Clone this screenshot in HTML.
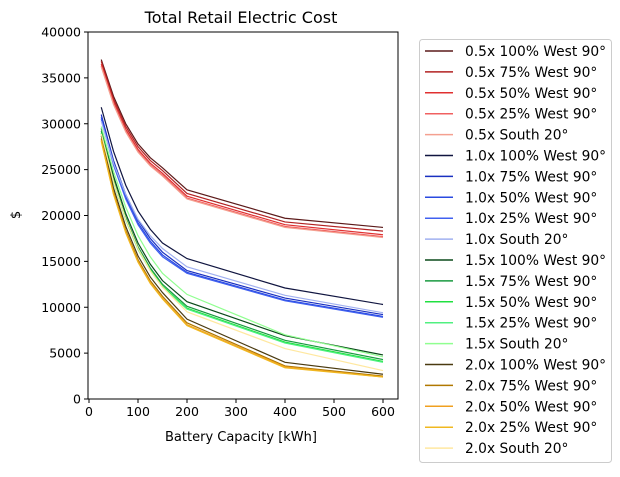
<!DOCTYPE html>
<html><head><meta charset="utf-8"><style>body{margin:0;background:#fff}svg{font-family:"DejaVu Sans","Liberation Sans",sans-serif}</style></head>
<body>
<svg id="c" width="620" height="472"></svg>
<script>
const xs=[25,50,75,100,125,150,200,400,600];
const labels=["0.5x 100% West 90°","0.5x 75% West 90°","0.5x 50% West 90°","0.5x 25% West 90°","0.5x South 20°","1.0x 100% West 90°","1.0x 75% West 90°","1.0x 50% West 90°","1.0x 25% West 90°","1.0x South 20°","1.5x 100% West 90°","1.5x 75% West 90°","1.5x 50% West 90°","1.5x 25% West 90°","1.5x South 20°","2.0x 100% West 90°","2.0x 75% West 90°","2.0x 50% West 90°","2.0x 25% West 90°","2.0x South 20°"];
const colors=['#5c1a1a','#b22222','#e03030','#f06060','#f4a090','#101540','#1a30c0','#2a4ae0','#4060f0','#a0b0f0','#0a4a1a','#1a9a40','#20e040','#50f080','#90ff90','#4a3a10','#b07800','#f0a020','#f0b820','#ffe8a0'];
const s0=[37000,33000,30000,27800,26300,25200,22800,19700,18700];
const s1=[36800,32700,29700,27500,26000,24900,22400,19300,18300];
const s2=[36500,32400,29400,27200,25700,24600,22100,19000,17900];
const s3=[36300,32200,29200,27000,25500,24400,21900,18800,17700];
const s4=[36200,32100,29100,26900,25400,24300,21800,18700,17600];
const s5=[31800,27000,23300,20500,18500,17000,15300,12100,10300];
const s6=[31000,26000,22300,19500,17500,16000,14000,11000,9200];
const s7=[30700,25700,22000,19200,17200,15700,13800,10800,9000];
const s8=[30500,25500,21800,19000,17000,15500,13700,10700,8900];
const s9=[30300,25700,22300,19600,17800,16400,14400,11300,9400];
const s10=[29500,24300,20200,17000,14700,12900,10600,6900,4800];
const s11=[29200,23900,19800,16600,14300,12500,10100,6400,4300];
const s12=[29000,23700,19600,16400,14100,12300,9900,6200,4100];
const s13=[28900,23600,19500,16300,14000,12200,9800,6100,4000];
const s14=[29700,24800,20900,17800,15500,13700,11400,7000,4600];
const s15=[28700,23000,18800,15600,13300,11600,8700,4000,2700];
const s16=[28400,22600,18400,15200,12900,11200,8300,3600,2500];
const s17=[28200,22400,18200,15000,12700,11000,8100,3500,2400];
const s18=[28100,22300,18100,14900,12600,10900,8000,3400,2400];
const s19=[28900,23700,19600,16400,14000,12200,9500,5500,3100];
const series=[s0,s1,s2,s3,s4,s5,s6,s7,s8,s9,s10,s11,s12,s13,s14,s15,s16,s17,s18,s19];
const xTicks=[0,100,200,300,400,500,600];
const yTicks=[0,5000,10000,15000,20000,25000,30000,35000,40000];
const L=88,R=398,T=32,B=399;
const X=v=>89+v*0.49, Y=v=>B-v*(B-T)/40000;
const svg=document.getElementById('c');const NS='http://www.w3.org/2000/svg';
function mk(t,a,p){const e=document.createElementNS(NS,t);for(const k in a)e.setAttribute(k,a[k]);(p||svg).appendChild(e);return e;}
series.forEach((s,i)=>{const p=mk('polyline',{points:s.map((v,j)=>X(xs[j])+','+Y(v)).join(' '),fill:'none',stroke:colors[i],'stroke-width':1.2});

});
const fr=mk('rect',{x:L,y:T,width:R-L,height:B-T,fill:'none',stroke:'#000','stroke-width':1});


xTicks.forEach(v=>{mk('line',{x1:X(v),x2:X(v),y1:B,y2:B+4,stroke:'#000'});const t=mk('text',{x:X(v),y:B+17,'text-anchor':'middle','font-size':12.5});t.textContent=v;

});
yTicks.forEach(v=>{mk('line',{x1:L-4,x2:L,y1:Y(v),y2:Y(v),stroke:'#000'});const t=mk('text',{x:L-7,y:Y(v)+4.5,'text-anchor':'end','font-size':12.5});t.textContent=v;

});
let t=mk('text',{x:241,y:23,'text-anchor':'middle','font-size':16});t.textContent='Total Retail Electric Cost';


t=mk('text',{x:241,y:441,'text-anchor':'middle','font-size':13});t.textContent='Battery Capacity [kWh]';


t=mk('text',{x:20,y:215,'text-anchor':'middle','font-size':13,transform:'rotate(-90 20 215)'});t.textContent='$';


const lg=mk('rect',{x:419.5,y:39.5,width:192,height:423,rx:3,fill:'#fff',stroke:'#ccc'});


labels.forEach((l,i)=>{const y=51+i*20.9;mk('line',{x1:425,x2:453,y1:y,y2:y,stroke:colors[i],'stroke-width':1.5});const tt=mk('text',{x:465,y:y+5,'font-size':13.8});tt.textContent=l;

});
</script>
</body></html>
